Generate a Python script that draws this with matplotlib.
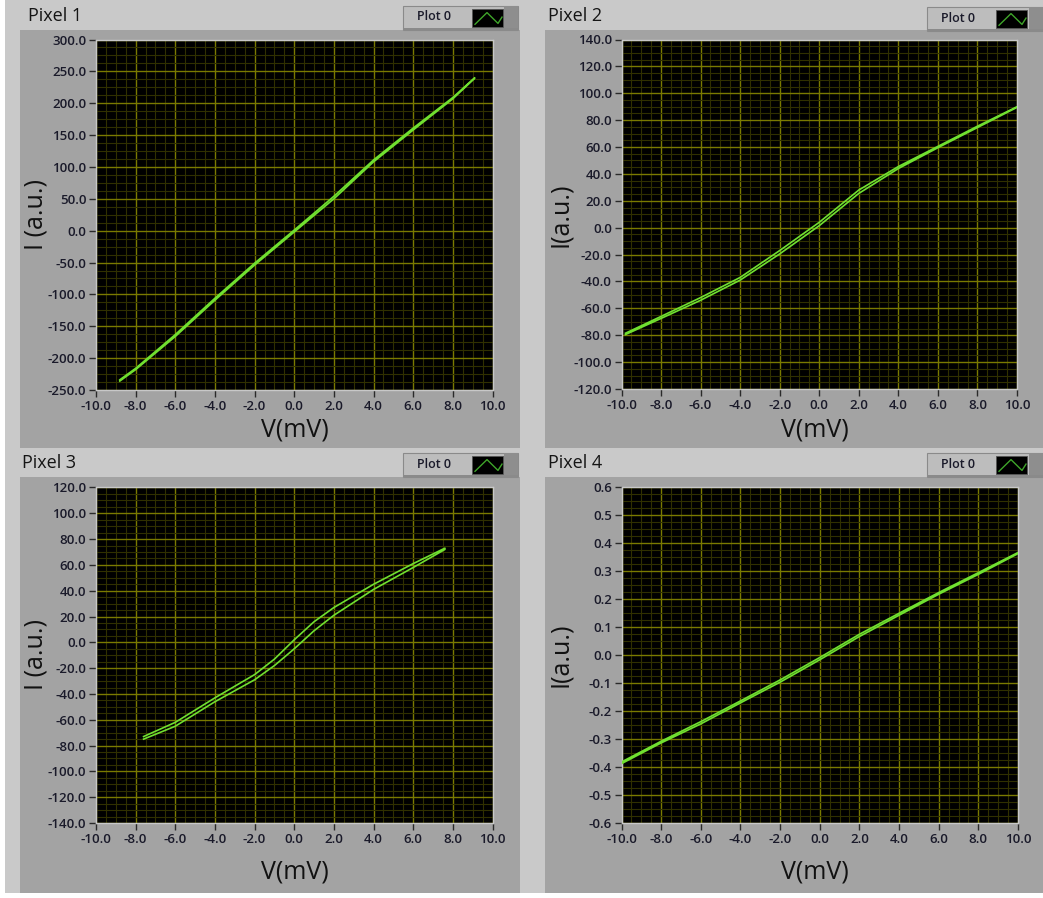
import numpy as np
import matplotlib
matplotlib.use('Agg')
import matplotlib.pyplot as plt
from matplotlib.patches import Rectangle
from matplotlib.lines import Line2D
from matplotlib.ticker import MultipleLocator, AutoMinorLocator, FormatStrFormatter

# ---------------- data ----------------
titles = ["Pixel 1", "Pixel 2", "Pixel 3", "Pixel 4"]
ylabels = ["I (a.u.)", "I(a.u.)", "I (a.u.)", "I(a.u.)"]
xlabel = "V(mV)"
legend_label = "Plot 0"

p1_v = [-8.8, -8, -6, -4, -2, 0, 2, 4, 6, 8, 9.1]
p1_up = [-234, -216, -163, -106, -51, 1, 54, 111, 161, 209, 240]
p1_lo = [-236, -218, -166, -109, -54, -2, 50, 108, 158, 207, 239]

p2_v = [-9.8, -8, -6, -4, -2, 0, 2, 4, 6, 8, 10]
p2_up = [-78.5, -66, -52, -37, -17, 4, 28, 45.5, 60.5, 75.5, 90]
p2_lo = [-79.5, -67.5, -54, -39, -19.5, 1.5, 25.5, 44, 59.5, 74.5, 89.5]

p3_v = [-7.6, -6, -4, -2, -1, 0, 1, 2, 4, 6, 7.6]
p3_up = [-73, -62, -43, -25, -13, 2, 16, 27, 45, 61, 73]
p3_lo = [-75, -65, -46, -29, -18, -5, 9, 21, 41, 58, 72]

p4_v = [-10, -8, -6, -4, -2, 0, 2, 4, 6, 8, 10]
p4_up = [-0.382, -0.308, -0.238, -0.164, -0.089, -0.009, 0.074, 0.149, 0.223, 0.294, 0.366]
p4_lo = [-0.388, -0.314, -0.246, -0.171, -0.097, -0.017, 0.066, 0.142, 0.217, 0.288, 0.362]

x_ticks = [-10, -8, -6, -4, -2, 0, 2, 4, 6, 8, 10]
y_limits = [(-250, 300), (-120, 140), (-140, 120), (-0.6, 0.6)]
y_steps = [50, 20, 20, 0.1]

# ---------------- styling / layout ----------------
W, H = 1043, 898
LIGHT = '#c9c9c9'
DARK = '#a3a3a3'
GREEN = '#70e030'
MAJOR = '#7a7a00'
MINOR = '#303000'
FONT = ['Open Sans', 'DejaVu Sans']

fig = plt.figure(figsize=(W / 100, H / 100), dpi=100, facecolor=LIGHT)


def rect(x0, y0, x1, y1, fc, ec='none', lw=0, z=0):
    fig.add_artist(Rectangle((x0 / W, 1 - y1 / H), (x1 - x0) / W, (y1 - y0) / H,
                             transform=fig.transFigure, facecolor=fc,
                             edgecolor=ec, lw=lw, zorder=z))


def fline(xs, ys, color, lw=1, z=3):
    fig.add_artist(Line2D([x / W for x in xs], [1 - y / H for y in ys],
                          transform=fig.transFigure, color=color, lw=lw, zorder=z))


def ftext(x, y, s, **kw):
    fig.text(x / W, 1 - y / H, s, **kw)


# white outer edges
rect(0, 0, 5, H, 'white')
rect(0, 893, W, H, 'white')

panels = [
    dict(dark=(20, 30, 520, 448), ax=(96, 39.5, 492.5, 390), title=(28, 16),
         leg=(403, 6, 518, 30), ylab=(36, 215), xlab=(295, 430)),
    dict(dark=(545, 30, 1043, 448), ax=(621.5, 39.5, 1017, 389), title=(548, 16),
         leg=(927, 7, 1043, 31), ylab=(560, 215), xlab=(815, 430)),
    dict(dark=(20, 477, 520, 893), ax=(96, 487.5, 492.5, 823), title=(22, 463),
         leg=(403, 453, 518, 477), ylab=(36, 655), xlab=(295, 872)),
    dict(dark=(545, 477, 1043, 893), ax=(621.5, 487, 1018, 823), title=(548, 463),
         leg=(927, 453, 1043, 477), ylab=(560, 655), xlab=(815, 872)),
]
data = [(p1_v, p1_up, p1_lo), (p2_v, p2_up, p2_lo), (p3_v, p3_up, p3_lo), (p4_v, p4_up, p4_lo)]

for i, p in enumerate(panels):
    rect(*p['dark'], DARK)
    ftext(p['title'][0], p['title'][1], titles[i], fontsize=13, family=FONT,
          color='#151515', va='center', ha='left')
    # legend button
    lx0, ly0, lx1, ly1 = p['leg']
    rect(lx0, ly0, lx1, ly1, '#bdbdbd', ec='#8a8a8a', lw=0.8, z=2)
    rect(lx1 - 14, ly0, lx1, ly1, '#8e8e8e', z=2)
    rect(lx0, ly1 - 2, lx1, ly1, '#8a8a8a', z=2)
    ix0 = lx0 + 69
    ix1 = ix0 + 31
    iy0 = ly0 + 3
    iy1 = ly1 - 3
    rect(ix0, iy0, ix1, iy1, 'black', ec='#555555', lw=0.6, z=3)
    hh = iy1 - iy0
    fline([ix0 + 3, ix0 + 15, ix0 + 26, ix1 - 1],
          [iy0 + hh * 0.85, iy0 + hh * 0.2, iy0 + hh * 0.8, iy0 + hh * 0.45],
          '#3fa52a', lw=1, z=4)
    ftext(lx0 + 14, (ly0 + ly1) / 2 - 1, legend_label, fontsize=9, family=FONT,
          fontweight='semibold', color='#1a1a2a', va='center', ha='left', zorder=5)

    x0, y0, x1, y1 = p['ax']
    ax = fig.add_axes([x0 / W, 1 - y1 / H, (x1 - x0) / W, (y1 - y0) / H])
    ax.set_facecolor('black')
    v, up, lo = data[i]
    xs = np.concatenate([np.array(v), np.array(v)[::-1]])
    ys = np.concatenate([np.array(lo), np.array(up)[::-1]])
    ax.plot(xs, ys, color=GREEN, lw=1.2, zorder=5)

    ax.set_xlim(-10, 10)
    ax.set_ylim(*y_limits[i])
    ax.set_xticks(x_ticks)
    ax.yaxis.set_major_locator(MultipleLocator(y_steps[i]))
    ax.xaxis.set_minor_locator(AutoMinorLocator(4))
    ax.yaxis.set_minor_locator(AutoMinorLocator(4))
    ax.xaxis.set_major_formatter(FormatStrFormatter('%.1f'))
    ax.yaxis.set_major_formatter(FormatStrFormatter('%.1f'))
    ax.grid(which='minor', color=MINOR, lw=0.8, zorder=1)
    ax.grid(which='major', color=MAJOR, lw=1.0, zorder=2)
    ax.set_axisbelow(True)
    ax.tick_params(which='minor', length=0)
    ax.tick_params(which='major', length=5, width=1, color='#2a2a2a', pad=2,
                   labelsize=9.5, labelcolor='#1a1a2a')
    for lab in ax.get_xticklabels() + ax.get_yticklabels():
        lab.set_family(FONT)
        lab.set_fontweight('semibold')
    for s in ax.spines.values():
        s.set_color('#c8c8c8')
        s.set_linewidth(1)

    ftext(p['ylab'][0], p['ylab'][1], ylabels[i], fontsize=18, family=FONT,
          color='#111111', rotation=90, va='center', ha='center')
    ftext(p['xlab'][0], p['xlab'][1], xlabel, fontsize=18, family=FONT,
          color='#111111', va='center', ha='center')

fig.savefig('out.png', dpi=100, facecolor=fig.get_facecolor())
